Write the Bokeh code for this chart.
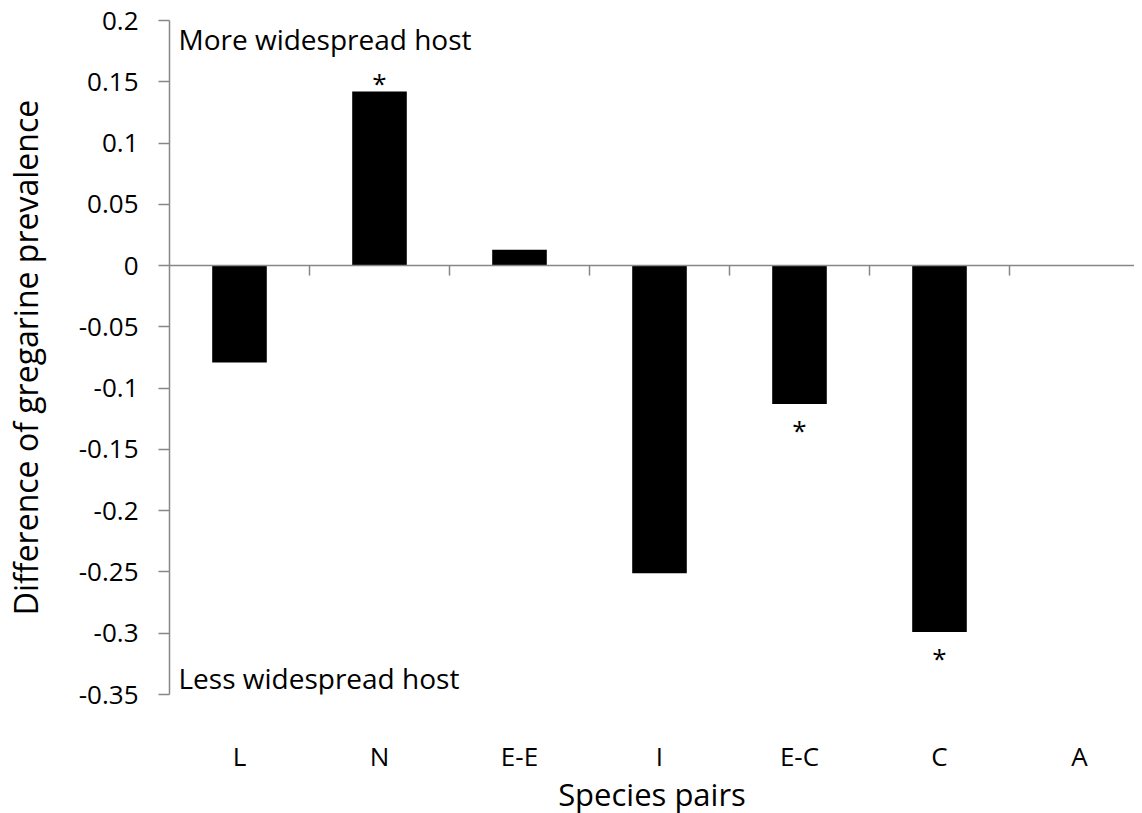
from bokeh.plotting import figure
from bokeh.models import Range1d, FixedTicker, Label, Span
from bokeh.core.properties import value
from bokeh.embed import file_html
from bokeh.resources import INLINE

categories = ["L", "N", "E-E", "I", "E-C", "C", "A"]
prevalence_diff = [-0.079, 0.142, 0.013, -0.251, -0.113, -0.299, 0.0]
significance = ["", "*", "", "", "*", "*", ""]
y_ticks = [-0.35, -0.3, -0.25, -0.2, -0.15, -0.1, -0.05, 0, 0.05, 0.1, 0.15, 0.2]
y_tick_labels = ["-0.35", "-0.3", "-0.25", "-0.2", "-0.15", "-0.1", "-0.05", "0", "0.05", "0.1", "0.15", "0.2"]

FONT = "Open Sans"
GRAY = "#878787"

xs = [i + 0.5 for i in range(len(categories))]
bounds = [i + 1 for i in range(len(categories))]

FRAME_W, FRAME_H = 965, 674
p = figure(frame_width=FRAME_W, frame_height=FRAME_H,
           x_range=Range1d(0, FRAME_W / 140), y_range=Range1d(-0.35, 0.2),
           output_backend="svg", toolbar_location=None,
           min_border_left=169, min_border_right=0, min_border_top=20, min_border_bottom=119)
p.outline_line_color = None
p.xgrid.visible = False
p.ygrid.visible = False
p.background_fill_color = "white"
p.border_fill_color = "white"

# bars
p.vbar(x=xs, top=prevalence_diff, bottom=0, width=0.39, fill_color="black", line_color=None)

# zero line and category boundary ticks
p.add_layout(Span(location=0, dimension="width", line_color=GRAY, line_width=1.5))
px_per_unit = FRAME_H / 0.55
tick_len = 10 / px_per_unit
p.segment(x0=bounds, x1=bounds, y0=[0] * len(bounds), y1=[-tick_len] * len(bounds),
          line_color=GRAY, line_width=1.5)

# significance stars
pos = [(x, v, s) for x, v, s in zip(xs, prevalence_diff, significance) if s and v > 0]
neg = [(x, v, s) for x, v, s in zip(xs, prevalence_diff, significance) if s and v < 0]
if pos:
    p.text(x=[a[0] for a in pos], y=[a[1] for a in pos], text=[a[2] for a in pos],
           text_align="center", text_baseline="alphabetic", y_offset=-9,
           text_font=value(FONT), text_font_size="26px", text_color="black")
if neg:
    p.text(x=[a[0] for a in neg], y=[a[1] for a in neg], text=[a[2] for a in neg],
           text_align="center", text_baseline="alphabetic", y_offset=26,
           text_font=value(FONT), text_font_size="26px", text_color="black")

# axis styling
yax = p.yaxis[0]
yax.ticker = FixedTicker(ticks=y_ticks)
yax.major_label_overrides = {t: l for t, l in zip(y_ticks, y_tick_labels)}
yax.minor_tick_line_color = None
yax.major_tick_in = 0
yax.major_tick_out = 11
yax.axis_line_color = GRAY
yax.axis_line_width = 1.5
yax.major_tick_line_color = GRAY
yax.major_tick_line_width = 1.5
yax.major_label_text_font = FONT
yax.major_label_text_font_size = "26px"
yax.major_label_text_color = "black"
yax.major_label_standoff = 20
yax.axis_label = "Difference of gregarine prevalence"
yax.axis_label_text_font = FONT
yax.axis_label_text_font_size = "32px"
yax.axis_label_text_font_style = "normal"
yax.axis_label_text_color = "black"
yax.axis_label_standoff = 29

xax = p.xaxis[0]
xax.ticker = FixedTicker(ticks=xs)
xax.major_label_overrides = {x: c for x, c in zip(xs, categories)}
xax.axis_line_color = None
xax.major_tick_line_color = None
xax.minor_tick_line_color = None
xax.major_label_text_font = FONT
xax.major_label_text_font_size = "26px"
xax.major_label_text_color = "black"
xax.major_label_standoff = 37
xax.axis_label = "Species pairs"
xax.axis_label_text_font = FONT
xax.axis_label_text_font_size = "31px"
xax.axis_label_text_font_style = "normal"
xax.axis_label_text_color = "black"
xax.axis_label_standoff = -4

p.add_layout(Label(x=0, y=0.2, x_offset=9, y_offset=-18, text="More widespread host",
                   text_baseline="alphabetic", text_font=FONT, text_font_size="28px", text_color="black"))
p.add_layout(Label(x=0, y=-0.35, x_offset=9, y_offset=17, text="Less widespread host",
                   text_baseline="alphabetic", text_font=FONT, text_font_size="28px", text_color="black"))

open("out.html", "w").write(file_html(p, INLINE))
